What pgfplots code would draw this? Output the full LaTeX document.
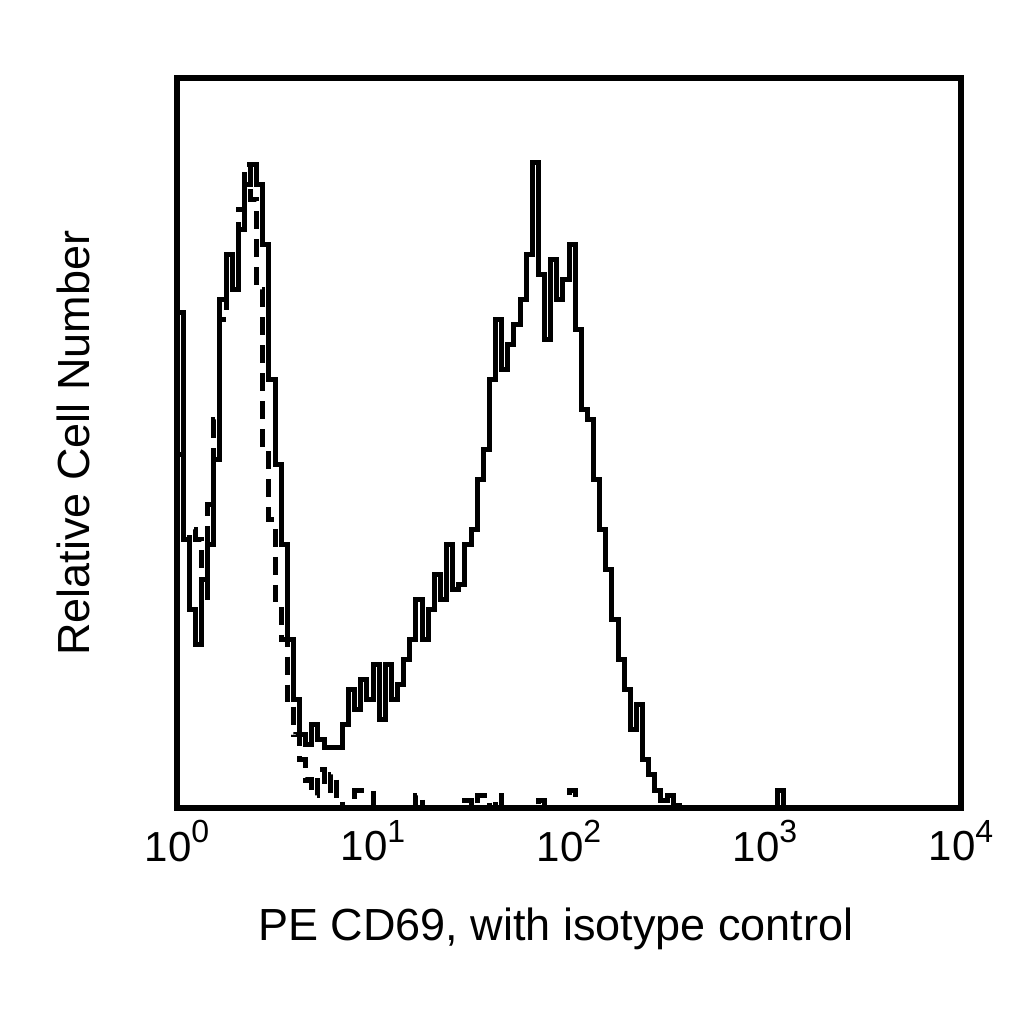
\documentclass[border=0pt]{standalone}
\usepackage{pgfplots}
\pgfplotsset{compat=1.18}
\usepackage{fontspec}
\setmainfont{Liberation Sans}

% decade tick label: 10 with raised exponent
\newcommand{\dec}[1]{10\raisebox{0.45em}{\fontsize{16}{17}\selectfont #1}}

\begin{document}
\begin{tikzpicture}
\useasboundingbox (0,0) rectangle (512pt,512pt);
\begin{axis}[
    at={(88.5pt,108pt)}, anchor=south west,
    scale only axis, width=392pt, height=365pt,
    xmin=0, xmax=128, ymin=0, ymax=730,
    xtick={0,32,64,96,128},
    xticklabels={\dec{0},\dec{1},\dec{2},\dec{3},\dec{4}},
    ytick=\empty,
    major tick length=0pt,
    axis line style={line width=2.8pt},
    xticklabel style={font=\fontsize{21}{23}\selectfont, yshift=-2.5pt},
    xlabel={PE CD69, with isotype control},
    ylabel={Relative Cell Number},
    every axis x label/.style={at={(axis description cs:0.483,-0.181)}, anchor=base,
        font=\fontsize{22.5}{26}\selectfont},
    every axis y label/.style={at={(axis description cs:-0.111,0.5)}, rotate=90, anchor=base,
        font=\fontsize{22.5}{26}\selectfont},
]

% isotype control (dashed)
\addplot[const plot mark left, black, line width=2.5pt, dash pattern=on 9pt off 5pt] table {
k h
0 353
1 268
2 278
3 268
4 208
5 303
6 388
7 488
8 548
9 533
10 598
11 643
12 608
13 518
14 358
15 288
16 208
17 168
18 108
19 73
20 48
21 28
22 13
23 38
24 18
25 33
26 8
27 0
29 18
32 0
39 13
40 0
47 8
48 0
49 13
51 0
52 13
53 0
59 8
60 0
64 18
65 0
128 0
};

% PE CD69 (solid)
\addplot[const plot mark left, black, line width=2.5pt] table {
k h
0 495
1 268
2 198
3 163
4 228
5 263
6 348
7 508
8 553
9 518
10 578
11 623
12 643
13 623
14 563
15 428
16 343
17 263
18 168
19 108
20 73
21 63
22 83
23 68
24 60
25 60
26 60
27 83
28 118
29 98
30 128
31 108
32 143
33 88
34 143
35 108
36 123
37 148
38 168
39 208
40 168
41 198
42 233
43 208
44 263
45 218
46 223
47 263
48 278
49 328
50 358
51 428
52 488
53 438
54 463
55 483
56 508
57 553
58 645
59 533
60 468
61 548
62 508
63 528
64 563
65 478
66 398
67 388
68 328
69 278
70 238
71 188
72 148
73 118
74 78
75 103
76 48
77 33
78 18
79 8
80 13
81 3
82 0
98 18
99 0
128 0
};
\end{axis}
\end{tikzpicture}
\end{document}
